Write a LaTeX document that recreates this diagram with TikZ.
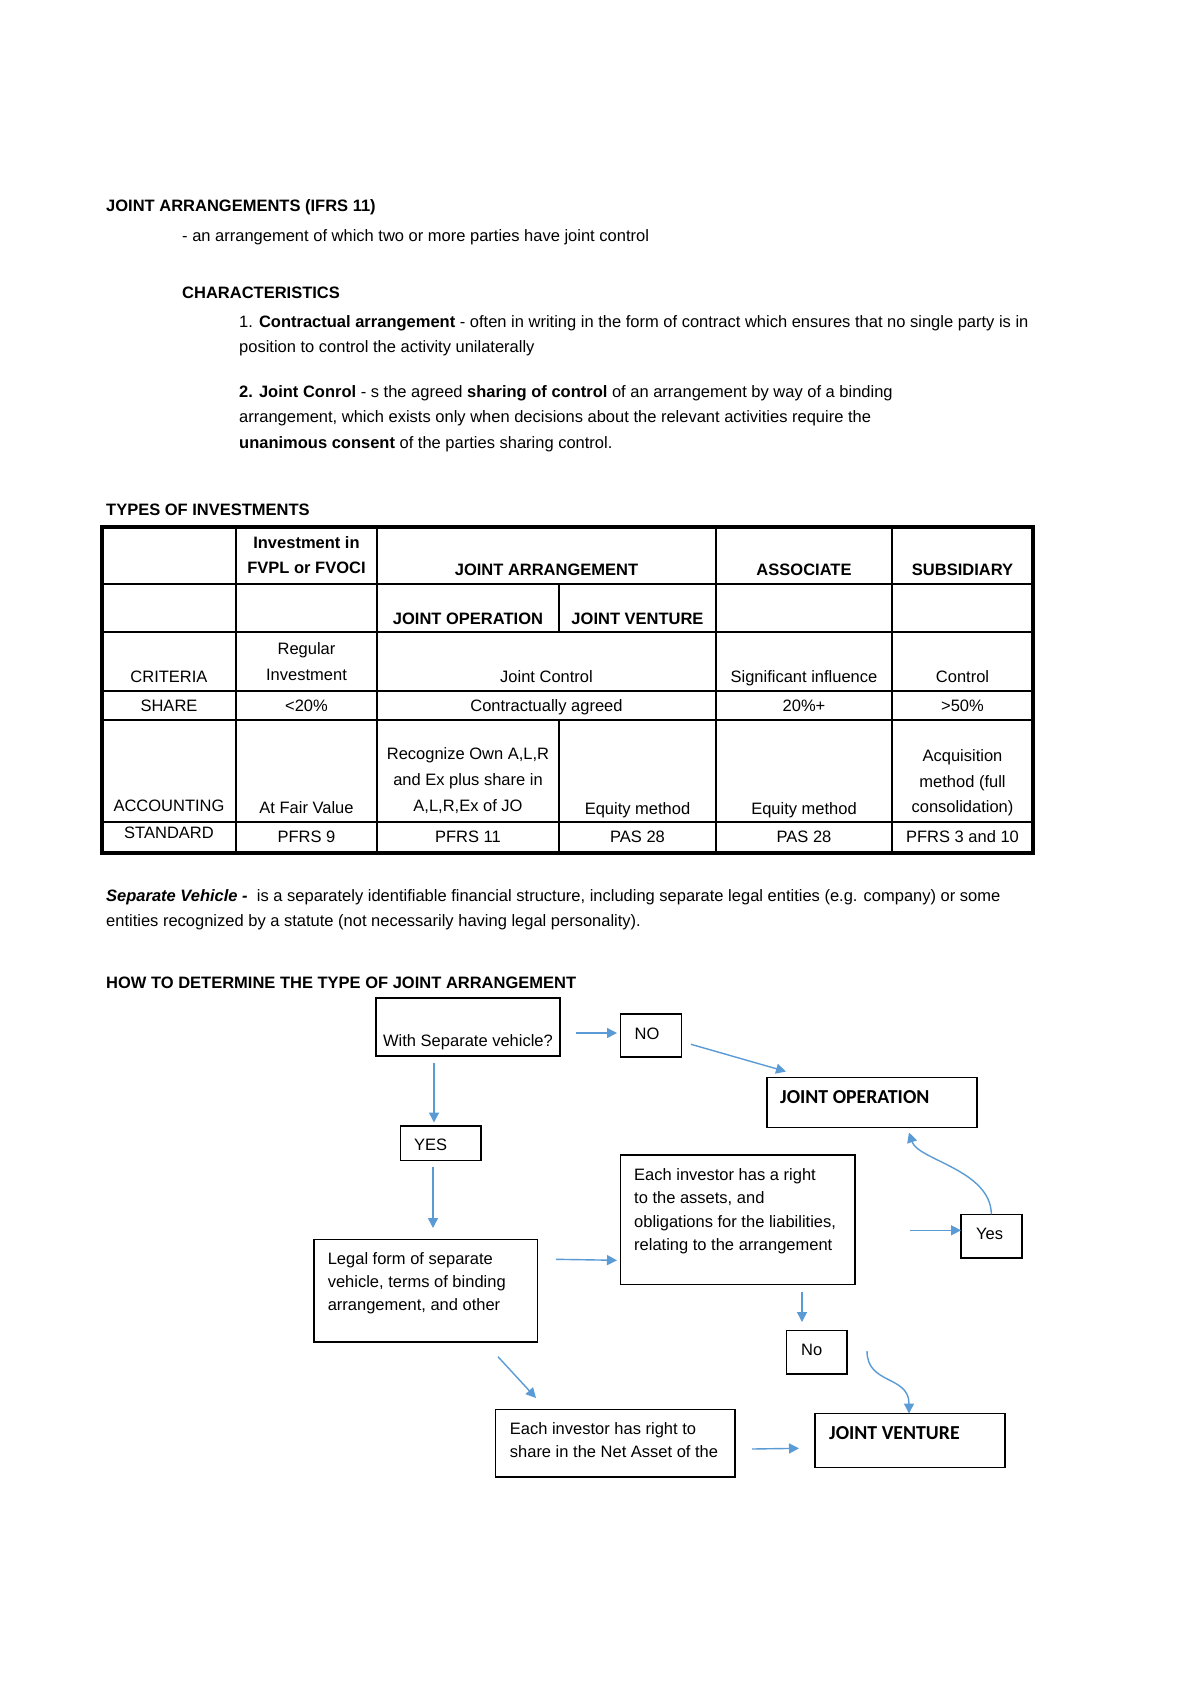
\documentclass[tikz,border=0pt]{standalone}
\usepackage{fontspec}
\setmainfont{Liberation Sans}
\newfontfamily\carlito{Carlito}
\usetikzlibrary{arrows.meta}
\definecolor{arrowblue}{RGB}{91,155,213}
\newcommand\myfs{\fontsize{16.5}{20}\selectfont}
\begin{document}
\begin{tikzpicture}[x=1pt,y=-1pt,
  lt/.style={anchor=base west,inner sep=0pt,font=\myfs},
  ltb/.style={anchor=base west,inner sep=0pt,font=\myfs\bfseries},
  ct/.style={anchor=base,inner sep=0pt,font=\myfs},
  ctb/.style={anchor=base,inner sep=0pt,font=\myfs\bfseries},
  cal/.style={anchor=base west,inner sep=0pt,font=\fontsize{19.8}{23}\selectfont\carlito\bfseries},
  box/.style={draw,line width=1.6pt,inner sep=0pt,outer sep=0pt},
  arr/.style={draw=arrowblue,line width=1.4pt,-{Triangle[length=10pt,width=10pt]}},
  outerline/.style={line width=3.2pt},
  innerline/.style={line width=1.8pt}]
\useasboundingbox (0,0) rectangle (1200,1697);
\fill[white] (0,0) rectangle (1200,1697);

% ---------- header text ----------
\node[ltb] (h1) at (106,211.5) {JOINT ARRANGEMENTS (IFRS 11)};
\node[lt] (h2) at (182,241) {- an arrangement of which two or more parties have joint control};
\node[ltb] (h3) at (182,298) {CHARACTERISTICS};
\node[lt] (c1a) at (239,327) {1. \textbf{Contractual arrangement} - often in writing in the form of contract which ensures that no single party is in};
\node[lt] (c1b) at (239,352) {position to control the activity unilaterally};
\node[lt] (c2a) at (239,397.7) {\textbf{2. Joint Conrol} - s the agreed \textbf{sharing of control} of an arrangement by way of a binding};
\node[lt] (c2b) at (239,422.6) {arrangement, which exists only when decisions about the relevant activities require the};
\node[lt] (c2c) at (239,448.6) {\textbf{unanimous consent} of the parties sharing control.};
\node[ltb] (h4) at (106,515.7) {TYPES OF INVESTMENTS};

% ---------- table ----------
\draw[innerline] (102,584) -- (1033,584);
\draw[innerline] (102,632) -- (1033,632);
\draw[innerline] (102,691) -- (1033,691);
\draw[innerline] (102,720) -- (1033,720);
\draw[innerline] (102,822) -- (1033,822);
\draw[innerline] (236,527) -- (236,853);
\draw[innerline] (377,527) -- (377,853);
\draw[innerline] (716,527) -- (716,853);
\draw[innerline] (892,527) -- (892,853);
\draw[innerline] (559,584) -- (559,632);
\draw[innerline] (559,720) -- (559,853);
\draw[outerline] (102,527) rectangle (1033,853);

\node[ctb] (r1a) at (306.5,548) {Investment in};
\node[ctb] (r1b) at (306.5,573) {FVPL or FVOCI};
\node[ctb] (r1c) at (546.5,575) {JOINT ARRANGEMENT};
\node[ctb] (r1d) at (804,575) {ASSOCIATE};
\node[ctb] (r1e) at (962.5,575) {SUBSIDIARY};

\node[ctb] (r2a) at (468,624) {JOINT OPERATION};
\node[ctb] (r2b) at (637.5,624) {JOINT VENTURE};

\node[ct] (r3a) at (169,682) {CRITERIA};
\node[ct] (r3b) at (306.5,654.5) {Regular};
\node[ct] (r3c) at (306.5,680) {Investment};
\node[ct] (r3d) at (546.5,682) {Joint Control};
\node[ct] (r3e) at (804,682) {Significant influence};
\node[ct] (r3f) at (962.5,682) {Control};

\node[ct] (r4a) at (169,711) {SHARE};
\node[ct] (r4b) at (306.5,711) {<20\%};
\node[ct] (r4c) at (546.5,711) {Contractually agreed};
\node[ct] (r4d) at (804,711) {20\%+};
\node[ct] (r4e) at (962.5,711) {>50\%};

\node[ct] (r5a) at (169,811.5) {ACCOUNTING};
\node[ct] (r5b) at (306.5,813) {At Fair Value};
\node[ct] (r5c1) at (468,759.5) {Recognize Own A,L,R};
\node[ct] (r5c2) at (468,785.5) {and Ex plus share in};
\node[ct] (r5c3) at (468,811.5) {A,L,R,Ex of JO};
\node[ct] (r5d) at (637.5,814) {Equity method};
\node[ct] (r5e) at (804,814) {Equity method};
\node[ct] (r5f1) at (962.5,761) {Acquisition};
\node[ct] (r5f2) at (962.5,787) {method (full};
\node[ct] (r5f3) at (962.5,812.5) {consolidation)};

\node[ct] (r6a) at (169,838) {STANDARD};
\node[ct] (r6b) at (306.5,842) {PFRS 9};
\node[ct] (r6c) at (468,842) {PFRS 11};
\node[ct] (r6d) at (637.5,842) {PAS 28};
\node[ct] (r6e) at (804,842) {PAS 28};
\node[ct] (r6f) at (962.5,842) {PFRS 3 and 10};

% ---------- separate vehicle ----------
\node[lt] (sv1) at (106,901) {\textbf{\textit{Separate Vehicle -}}\ \ is a separately identifiable financial structure, including separate legal entities (e.g. company) or some};
\node[lt] (sv2) at (106,926) {entities recognized by a statute (not necessarily having legal personality).};
\node[ltb] (h5) at (106,988.5) {HOW TO DETERMINE THE TYPE OF JOINT ARRANGEMENT};

% ---------- flowchart boxes ----------
\node[box,minimum width=184pt,minimum height=58pt] (sv) at (468,1027) {};
\node[ct] (svt) at (468,1046) {With Separate vehicle?};
\node[box,minimum width=61pt,minimum height=43pt] (no1) at (651,1035.5) {};
\node[lt] (no1t) at (634.5,1039) {NO};
\node[box,minimum width=210pt,minimum height=50pt] (jo) at (872,1102.5) {};
\node[cal] (jot) at (780,1103) {JOINT OPERATION};
\node[box,minimum width=80.5pt,minimum height=34.5pt] (yes1) at (440.75,1143.25) {};
\node[lt] (yes1t) at (414,1150) {YES};
\node[box,minimum width=234.5pt,minimum height=129.3pt] (each) at (737.75,1219.65) {};
\node[lt] (e1) at (634,1180) {Each investor has a right};
\node[lt] (e2) at (634,1203.5) {to the assets, and};
\node[lt] (e3) at (634,1227) {obligations for the liabilities,};
\node[lt] (e4) at (634,1250) {relating to the arrangement};
\node[box,minimum width=223.3pt,minimum height=102.4pt] (legal) at (425.65,1290.5) {};
\node[lt] (l1) at (327.6,1264.7) {Legal form of separate};
\node[lt] (l2) at (327.6,1287) {vehicle, terms of binding};
\node[lt] (l3) at (327.6,1310) {arrangement, and other};
\node[box,minimum width=60.7pt,minimum height=43.4pt] (yes2) at (991.35,1236) {};
\node[lt] (yes2t) at (976,1239) {Yes};
\node[box,minimum width=60.5pt,minimum height=43.5pt] (no2) at (816.75,1352.25) {};
\node[lt] (no2t) at (801,1355) {No};
\node[box,minimum width=239.6pt,minimum height=67.7pt] (share) at (615.2,1443.15) {};
\node[lt] (s1) at (509.7,1434.3) {Each investor has right to};
\node[lt] (s2) at (509.7,1457) {share in the Net Asset of the};
\node[box,minimum width=190pt,minimum height=54.2pt] (jv) at (910,1440.4) {};
\node[cal] (jvt) at (829,1439) {JOINT VENTURE};

% ---------- connector end points ----------
\coordinate (a1s) at (575.5,1033);  \coordinate (a1e) at (617,1033);
\coordinate (a2s) at (691,1044.3);  \coordinate (a2e) at (786,1071.5);
\coordinate (a3s) at (434,1063);    \coordinate (a3e) at (434,1122.5);
\coordinate (a4s) at (433,1167);    \coordinate (a4e) at (433,1228);
\coordinate (a5s) at (556,1259.3);  \coordinate (a5e) at (617,1260.3);
\coordinate (a6s) at (910,1230.3);  \coordinate (a6e) at (961,1230.3);
\coordinate (a7e) at (909,1132.5);
\coordinate (a8s) at (802,1291.5);  \coordinate (a8e) at (802,1322);
\coordinate (a9s) at (498,1356.7);  \coordinate (a9e) at (536,1398);
\coordinate (a10s) at (867,1351);   \coordinate (a10e) at (909,1413.5);
\coordinate (a11s) at (752,1449);   \coordinate (a11e) at (799,1448.3);

% ---------- connectors ----------
\draw[arr] (a1s) -- (a1e);
\draw[arr] (a2s) -- (a2e);
\draw[arr] (a3s) -- (a3e);
\draw[arr] (a4s) -- (a4e);
\draw[arr] (a5s) -- (a5e);
\draw[arr] (a6s) -- (a6e);
\draw[arr] (yes2.north) .. controls (991,1170) and (918,1160) .. (a7e);
\draw[arr] (a8s) -- (a8e);
\draw[arr] (a9s) -- (a9e);
\draw[arr] (a10s) .. controls (867,1385) and (909,1375) .. (a10e);
\draw[arr] (a11s) -- (a11e);
\end{tikzpicture}
\end{document}
